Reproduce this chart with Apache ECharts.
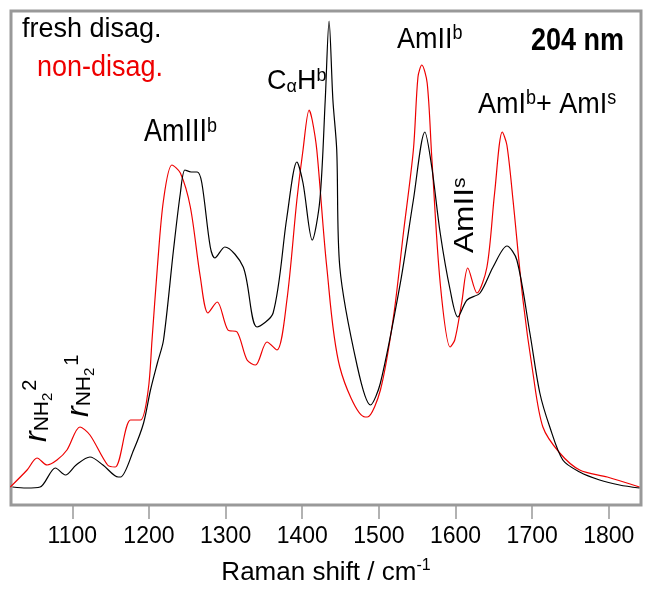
<!DOCTYPE html>
<html>
<head>
<meta charset="utf-8">
<script src="https://cdn.jsdelivr.net/npm/echarts@6/dist/echarts.min.js"></script>
<style>
  html, body { margin: 0; padding: 0; background: #fff; }
  #chart { width: 651px; height: 599px; }
</style>
</head>
<body>
<div id="chart"></div>
<script>
// spectra: [Raman shift, intensity (arb.)]
const freshDisag = [
  [1022, 18], [1040, 17], [1058, 18], [1078, 37], [1091, 30], [1105, 40], [1123, 48],
  [1140, 40], [1160, 28], [1163, 28], [1180, 55], [1193, 82], [1202, 115], [1211, 142],
  [1219, 165], [1232, 255], [1241, 312], [1247, 335], [1255, 333], [1263, 333],
  [1269, 322], [1280, 258], [1286, 247], [1299, 258], [1323, 238], [1341, 178],
  [1362, 192], [1380, 288], [1393, 343], [1401, 322], [1413, 265], [1423, 305],
  [1430, 405], [1435, 484], [1440, 405], [1445, 355], [1449, 238], [1472, 138],
  [1489, 100], [1502, 122], [1528, 222], [1545, 305], [1560, 373], [1569, 338],
  [1580, 272], [1593, 215], [1603, 188], [1615, 205], [1632, 212], [1649, 238],
  [1667, 259], [1680, 245], [1697, 172], [1710, 112], [1723, 78], [1740, 45],
  [1762, 33], [1788, 25], [1814, 20], [1840, 17]
];
const nonDisag = [
  [1019, 18], [1041, 35], [1054, 47], [1067, 40], [1080, 45], [1093, 55], [1110, 78],
  [1123, 70], [1146, 40], [1156, 38], [1176, 85], [1189, 85], [1199, 115], [1204, 165],
  [1211, 238], [1219, 305], [1230, 340], [1241, 332], [1254, 298], [1267, 228],
  [1277, 192], [1289, 203], [1303, 175], [1315, 173], [1328, 145], [1339, 140],
  [1354, 163], [1367, 155], [1380, 205], [1393, 305], [1401, 355], [1409, 395],
  [1413, 385], [1419, 355], [1432, 238], [1449, 138], [1482, 88], [1485, 88],
  [1502, 115], [1519, 188], [1532, 272], [1545, 355], [1551, 428], [1556, 440],
  [1563, 422], [1569, 348], [1580, 222], [1593, 158], [1599, 165], [1608, 202],
  [1616, 237], [1628, 212], [1641, 238], [1651, 312], [1661, 373], [1667, 360],
  [1675, 305], [1688, 205], [1701, 132], [1714, 78], [1736, 52], [1762, 35],
  [1798, 28], [1840, 18]
];
const tickValues = [1100, 1200, 1300, 1400, 1500, 1600, 1700, 1800];

const FONT = 'Liberation Sans, Arial, sans-serif';
const chart = echarts.init(document.getElementById('chart'));

const richStyles = {
  sup: { fontSize: 18, fontFamily: FONT, fill: '#000', verticalAlign: 'top', padding: [0, 0, 11, 0] },
  sub: { fontSize: 18, fontFamily: FONT, fill: '#000', padding: [11, 0, 0, 0] },
  rsup: { fontSize: 20, fontFamily: FONT, fill: '#000', verticalAlign: 'top', padding: [0, 0, 14, 2] },
  rsub: { fontSize: 21, fontFamily: FONT, fill: '#000', padding: [10, 0, 0, 0] },
  rsub2: { fontSize: 15, fontFamily: FONT, fill: '#000', padding: [20, 0, 0, 0] },
  it: { fontSize: 32, fontStyle: 'italic', fontFamily: FONT, fill: '#000' }
};

function label(x, y, text, extra, sy) {
  return {
    type: 'text', x: x, y: y, z: 10, scaleY: sy || 1,
    style: Object.assign({
      text: text, fontSize: 27, fontFamily: FONT, fill: '#000', rich: richStyles
    }, extra || {})
  };
}
function vlabel(x, y, text, sx) {
  const g = label(x, y, text);
  g.rotation = Math.PI / 2;
  g.scaleX = sx || 1;
  return g;
}

chart.setOption({
  animation: false,
  backgroundColor: '#fff',
  grid: { left: 11, right: 10, top: 11, bottom: 94, show: true, borderColor: '#999', borderWidth: 3 },
  xAxis: {
    type: 'value', min: 1020, max: 1842,
    name: 'Raman shift / cm{sup|-1}', nameLocation: 'middle', nameGap: 53,
    nameTextStyle: { fontSize: 26, fontFamily: FONT, color: '#000',
      rich: { sup: { fontSize: 16, fontFamily: FONT, color: '#000', padding: [0, 0, 13, 0] } } },
    axisLine: { show: false },
    splitLine: { show: false },
    axisTick: { show: true, customValues: tickValues, length: 14, lineStyle: { color: '#999', width: 1.5 } },
    axisLabel: { customValues: tickValues, fontSize: 23, fontFamily: FONT, color: '#000', margin: 20,
      formatter: function (v) { return String(v); } }
  },
  yAxis: {
    type: 'value', min: 0, max: 494,
    axisLine: { show: false }, axisTick: { show: false }, axisLabel: { show: false }, splitLine: { show: false }
  },
  series: [
    { name: 'fresh disag.', type: 'line', data: freshDisag, showSymbol: false, smooth: 0.3,
      lineStyle: { color: '#000', width: 1.2 }, z: 3 },
    { name: 'non-disag.', type: 'line', data: nonDisag, showSymbol: false, smooth: 0.3,
      lineStyle: { color: '#ee0000', width: 1.2 }, z: 2 }
  ],
  graphic: [
    label(22, 16, 'fresh disag.'),
    label(37, 53, 'non-disag.', { fill: '#ee0000' }, 1.1),
    label(624, 26, '204 nm', { fontWeight: 'bold', textAlign: 'right' }, 1.15),
    label(144, 116, 'AmIII{sup|b}', null, 1.15),
    label(267, 66, 'C{sub|α}H{sup|b}', null, 1.05),
    label(397, 24, 'AmII{sup|b}', null, 1.1),
    label(478, 89, 'AmI{sup|b}+ AmI{sup|s}', null, 1.1),
    vlabel(451, 253, 'AmII{sup|s}', 1.17),
    vlabel(20, 442, '{it|r}{rsub|NH}{rsub2|2}{rsup|2}'),
    vlabel(62, 417, '{it|r}{rsub|NH}{rsub2|2}{rsup|1}')
  ]
});
</script>
</body>
</html>
